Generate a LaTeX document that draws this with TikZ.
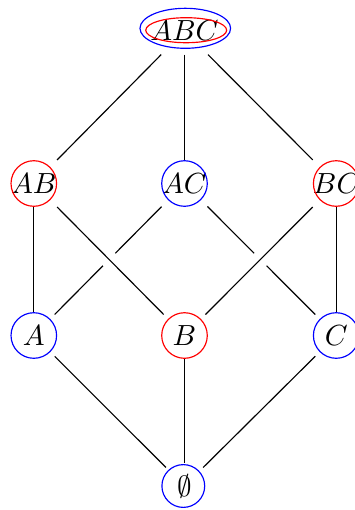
\documentclass[tikz,border=0pt]{standalone}
\begin{document}
\begin{tikzpicture}[x=0.3436pt,y=-0.3436pt,
  anchorbox/.style={rectangle,inner sep=0pt,minimum width=13.95pt,minimum height=15.8pt},
  topbox/.style={rectangle,inner sep=0pt,minimum width=20.6pt,minimum height=15.8pt},
  botbox/.style={rectangle,inner sep=0pt,minimum width=12.4pt,minimum height=15.1pt},
  edge/.style={draw=black,line width=0.4pt},
  overedge/.style={edge,preaction={draw=white,line width=6pt}},
  ring/.style={line width=0.4pt}]
\useasboundingbox (0,0) rectangle (355,510);
% vertices
\node[topbox] (ABC) at (184.5,31) {$ABC$};
\node[anchorbox] (AB) at (33.8,183.5) {$AB$};
\node[anchorbox] (AC) at (184.5,183.5) {$AC$};
\node[anchorbox] (BC) at (336.2,183.5) {$BC$};
\node[anchorbox] (A) at (33.8,335.5) {$A$};
\node[anchorbox] (B) at (184.5,335.5) {$B$};
\node[anchorbox] (C) at (336.2,335.5) {$C$};
\node[botbox] (E) at (184.5,486) {$\emptyset$};
% rings
\draw[ring,blue] (185.3,28.3) ellipse[x radius=15.57pt,y radius=6.87pt];
\draw[ring,red] (186.2,30.2) ellipse[x radius=13.9pt,y radius=4.3pt];
\draw[ring,red] (AB.center) circle[radius=7.83pt];
\draw[ring,blue] (AC.center) circle[radius=7.83pt];
\draw[ring,red] (BC.center) circle[radius=7.83pt];
\draw[ring,blue] (A.center) circle[radius=7.83pt];
\draw[ring,red] (B.center) circle[radius=7.83pt];
\draw[ring,blue] (C.center) circle[radius=7.83pt];
\draw[ring,blue] (183.3,486) circle[radius=7.35pt];
% edges
\draw[edge] (ABC) -- (AB);
\draw[edge] (ABC) -- (AC);
\draw[edge] (ABC) -- (BC);
\draw[edge] (AB) -- (A);
\draw[edge] (BC) -- (C);
\draw[edge] (AC) -- (A);
\draw[edge] (AC) -- (C);
\draw[overedge] (AB) -- (B);
\draw[overedge] (BC) -- (B);
\draw[edge] (A) -- (E);
\draw[edge] (B) -- (E);
\draw[edge] (C) -- (E);
\end{tikzpicture}
\end{document}
